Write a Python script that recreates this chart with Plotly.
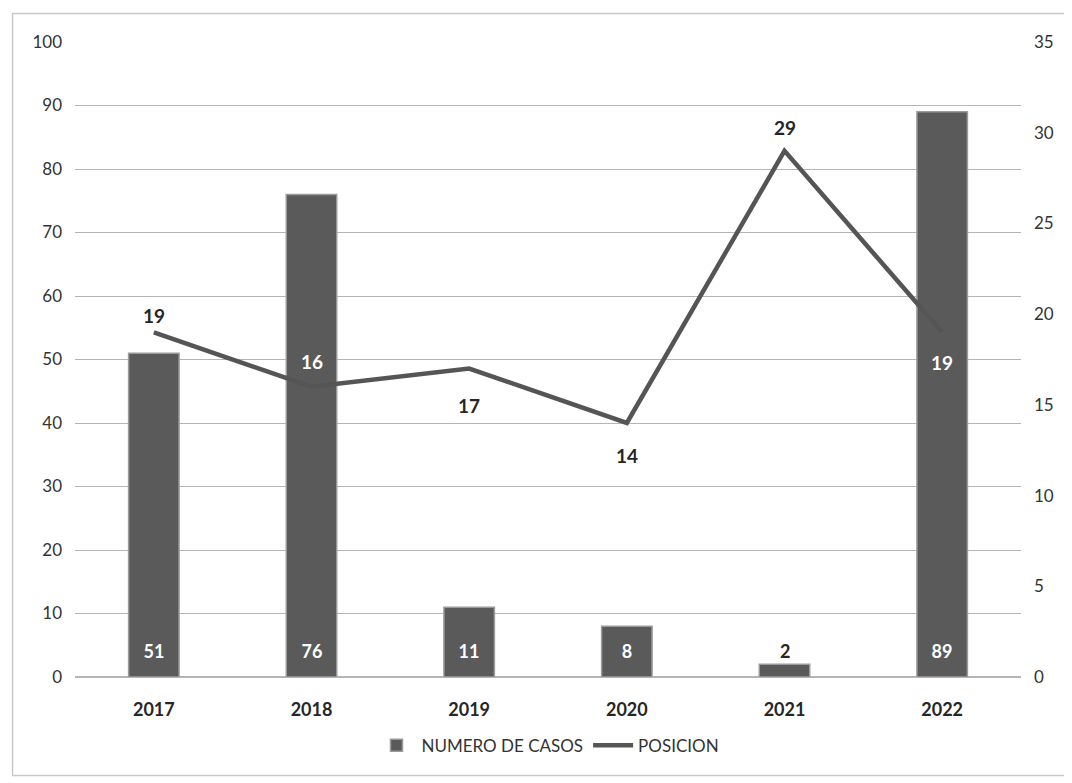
import plotly.graph_objects as go

years = ["2017", "2018", "2019", "2020", "2021", "2022"]
casos = [51, 76, 11, 8, 2, 89]
posicion = [19, 16, 17, 14, 29, 19]

# label styling for POSICION values (pixel shift from point, text colour)
pos_label_shift = [17, 25, -37, -32, 23, -30]
pos_label_color = ["#262626", "#ffffff", "#262626", "#262626", "#262626", "#ffffff"]

bar_color = "#5a5a5a"
font_family = "Lato, 'Open Sans', sans-serif"

fig = go.Figure()
fig.add_trace(go.Bar(
    x=years, y=casos, name="NUMERO DE CASOS",
    marker=dict(color=bar_color, line=dict(color="#9a9a9a", width=1.5)),
    width=0.32, yaxis="y",
))
fig.add_trace(go.Scatter(
    x=years, y=posicion, name="POSICION", yaxis="y2",
    mode="lines", line=dict(color="#555555", width=4.5),
))

annotations = []
for i, v in enumerate(casos):
    big = v >= 5
    annotations.append(dict(
        x=i, y=0, xref="x", yref="y", text=f"<b>{v}</b>", showarrow=False,
        yanchor="middle", yshift=26,
        font=dict(family=font_family, size=18, color="#ffffff" if big else "#262626"),
        bgcolor=bar_color if big else "rgba(0,0,0,0)", borderpad=3, width=34 if big else None,
    ))
for i, v in enumerate(posicion):
    annotations.append(dict(
        x=i, y=v, xref="x", yref="y2", text=f"<b>{v}</b>", showarrow=False,
        yanchor="middle", yshift=pos_label_shift[i],
        font=dict(family=font_family, size=19, color=pos_label_color[i]),
    ))

fig.update_layout(
    width=1072, height=783,
    margin=dict(l=67, r=59, t=34, b=114),
    paper_bgcolor="white", plot_bgcolor="white",
    font=dict(family=font_family, size=17, color="#333333"),
    showlegend=True,
    legend=dict(orientation="h", x=0.5, xanchor="center", y=-0.08, yanchor="top",
                bgcolor="rgba(0,0,0,0)", itemwidth=40,
                font=dict(size=17, color="#333333")),
    xaxis=dict(type="category", range=[-0.5, 5.5], showgrid=False, showline=False, ticks="",
               ticklabelstandoff=20, automargin=False,
               tickfont=dict(size=18, color="#262626", weight="bold")),
    yaxis=dict(range=[0, 100], dtick=10, showgrid=True, gridcolor="#b5b5b5", gridwidth=1,
               zeroline=True, zerolinecolor="#b5b5b5", showline=False, ticks="",
               automargin=False,
               ticklabelstandoff=12, tickfont=dict(size=17, color="#333333")),
    yaxis2=dict(range=[0, 35], dtick=5, overlaying="y", side="right", showgrid=False,
                zeroline=False, showline=False, ticks="", ticklabelstandoff=12,
                automargin=False,
                tickfont=dict(size=17, color="#333333")),
    annotations=annotations,
    shapes=[dict(type="rect", xref="paper", yref="paper", x0=-0.066, x1=1.05, y0=-0.155, y1=1.045,
                 line=dict(color="#c8c8c8", width=1.5), layer="below")],
)

fig.write_html("out.html")
